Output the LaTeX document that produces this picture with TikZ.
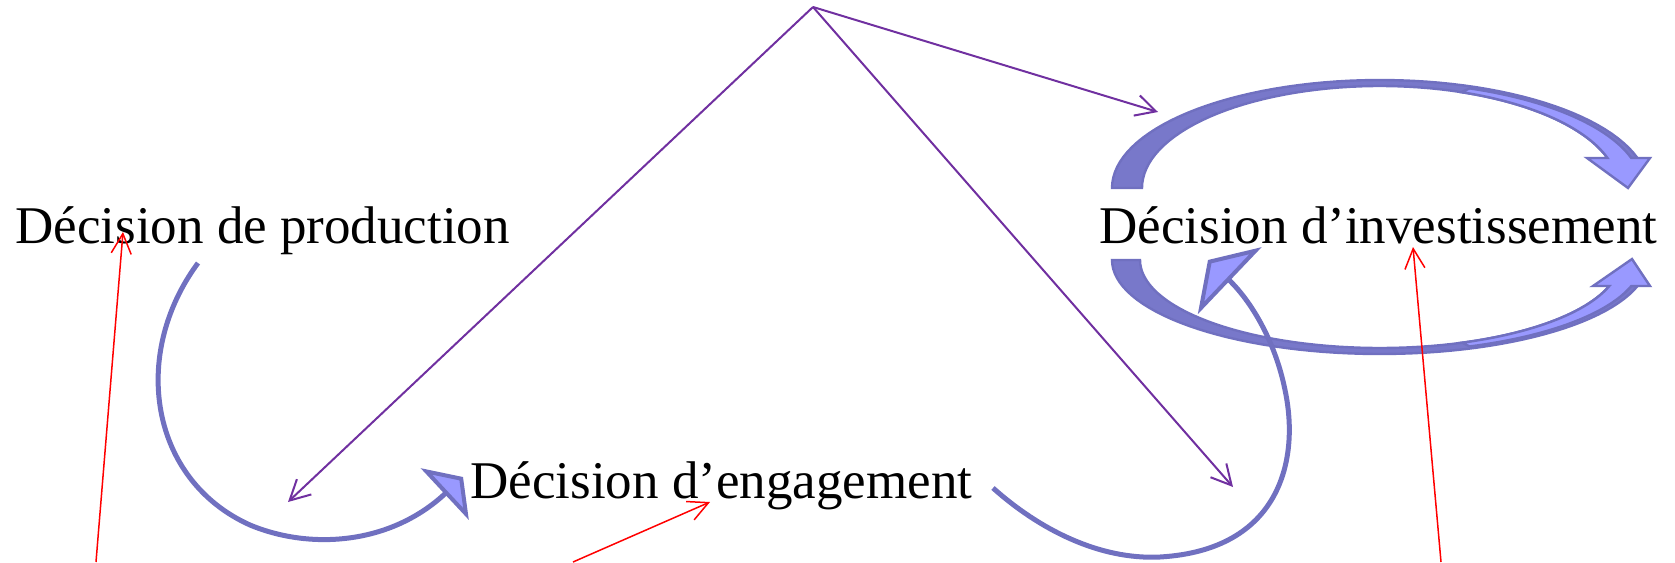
\documentclass[tikz,border=0pt]{standalone}
\usepackage{fontspec}
\setmainfont{Liberation Serif}
\usetikzlibrary{arrows.meta}

\definecolor{linkpurple}{RGB}{112,48,160}
\definecolor{curledge}{RGB}{112,112,192}
\definecolor{curlback}{RGB}{120,120,202}
\definecolor{curlfront}{RGB}{153,153,255}

\begin{document}
\begin{tikzpicture}[x=0.5pt, y=-0.5pt,
  decision/.style={font=\fontsize{26.5}{32}\selectfont, inner sep=0pt, anchor=base west},
  link/.style={-{Straight Barb[length=10pt, width=10.5pt]}, line width=1pt, linkpurple},
  cause/.style={-{Straight Barb[length=10pt, width=10pt]}, line width=0.75pt, red},
  curl/.style={line width=2.5pt, curledge},
  back/.style={fill=curlback, draw=curledge, line width=1.2pt},
  front/.style={fill=curlfront, draw=curledge, line width=1.2pt},
]
\useasboundingbox (0,0) rectangle (1675,562);

% === DECISIONS ===
\node[decision] (prod) at (15,243) {Décision de production};
\node[decision] (eng) at (470,498) {Décision d’engagement};
\node[decision] (inv) at (1099,243) {Décision d’investissement};

% === LOOP AROUND INVESTMENT (upper) ===
\filldraw[back] plot[domain=180:343.87, samples=60] ({1380+268*cos(\x)},{188+108*sin(\x)})
  -- plot[domain=342.9:180, samples=60] ({1380+238*cos(\x)},{188+102*sin(\x)}) -- cycle;
\filldraw[front] plot[domain=290:343.56, samples=30] ({1380+262*cos(\x)},{188+106*sin(\x)})
  -- (1650,158) -- (1628,188) -- (1587,158)
  -- plot[domain=342.9:290, samples=30] ({1380+238*cos(\x)},{188+102*sin(\x)}) -- cycle;

% === LOOP AROUND INVESTMENT (lower) ===
\filldraw[back] plot[domain=180:16.06, samples=60] ({1380+268*cos(\x)},{260+94*sin(\x)})
  -- plot[domain=17.19:180, samples=60] ({1380+240*cos(\x)},{260+88*sin(\x)}) -- cycle;
\filldraw[front] plot[domain=70:16.42, samples=30] ({1380+262*cos(\x)},{260+92*sin(\x)})
  -- (1650,286) -- (1632,259) -- (1593,286)
  -- plot[domain=17.19:70, samples=30] ({1380+240*cos(\x)},{260+88*sin(\x)}) -- cycle;

% === CURLED ARROWS BETWEEN DECISIONS ===
\coordinate (prodout) at (198,263);
\coordinate (engin) at (463,477);
\coordinate (engout) at (993,488);
\coordinate (invin) at (1208,260);
\draw[curl, -{Triangle[length=12.5pt, width=35pt, line width=2pt, fill=curlfront]}]
  (prodout) .. controls (130,355) and (150,480) .. (250,525)
  .. controls (310,550) and (390,545) .. (engin);
\draw[curl, -{Triangle[length=15pt, width=46pt, line width=2pt, fill=curlfront]}]
  (engout) .. controls (1040,530) and (1100,560) .. (1160,557)
  .. controls (1280,550) and (1300,460) .. (1285,390)
  .. controls (1275,340) and (1250,300) .. (invin);

% === LINKS FROM THE TOP ===
\coordinate (apex) at (813,7);
\coordinate (linkprod) at (288,502);
\coordinate (linkeng) at (1233,487);
\coordinate (linkinv) at (1158,112);
\draw[link] (apex) -- (linkprod);
\draw[link] (apex) -- (linkeng);
\draw[link] (apex) -- (linkinv);

% === CAUSES FROM BELOW ===
\coordinate (low1) at (96,562);
\coordinate (low2) at (573,562);
\coordinate (low3) at (1441,562);
\coordinate (hit1) at (123,232);
\coordinate (hit2) at (710,502);
\coordinate (hit3) at (1413,247);
\draw[cause] (low1) -- (hit1);
\draw[cause] (low2) -- (hit2);
\draw[cause] (low3) -- (hit3);
\end{tikzpicture}
\end{document}
